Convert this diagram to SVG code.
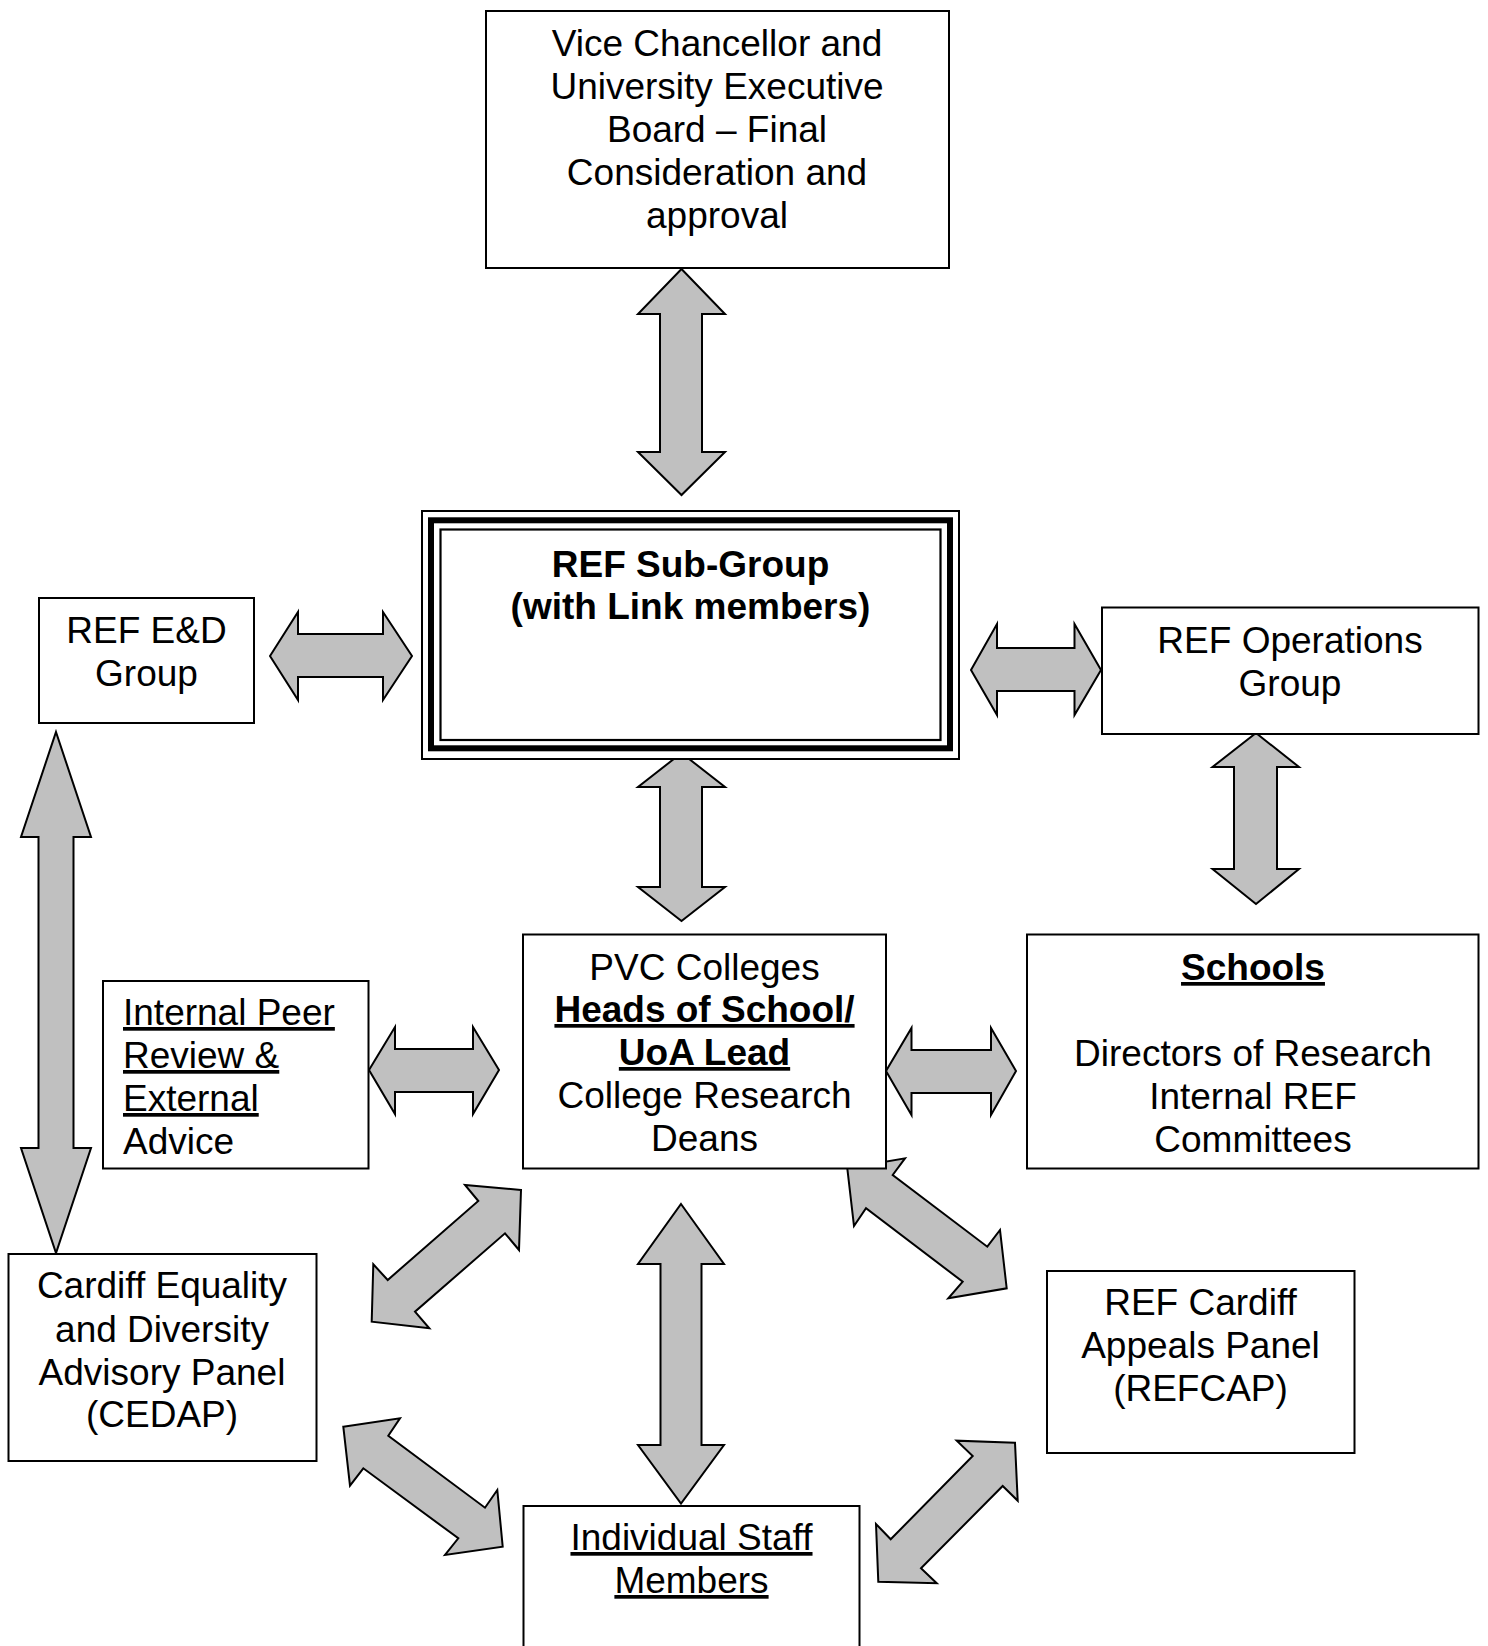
<svg xmlns="http://www.w3.org/2000/svg" width="1488" height="1646" viewBox="0 0 1488 1646">
<style>
.box{fill:#fff;stroke:#000;stroke-width:2}
.arr{fill:#c0c0c0;stroke:#000;stroke-width:2;stroke-linejoin:miter}
.t{font-family:"Liberation Sans",Arial,sans-serif;font-size:37px;fill:#000;text-anchor:middle}
.l{text-anchor:start}
.b{font-weight:bold}
.u{text-decoration:underline}
</style>
<rect width="1488" height="1646" fill="#fff"/>
<g id="connectors">
<polygon class="arr" points="681.5,269 725,314 702,314 702,452 725,452 681.5,495 638,452 660,452 660,314 638,314"/>
<polygon class="arr" points="681.5,753 725,787 702,787 702,887 725,887 681.5,921 638,887 660,887 660,787 638,787"/>
<polygon class="arr" points="681,1204 724,1264 701.5,1264 701.5,1445 724,1445 681,1503.5 638,1445 660.5,1445 660.5,1264 638,1264"/>
<polygon class="arr" points="56,732 91,837 73.5,837 73.5,1148 91,1148 56,1253 21,1148 38.5,1148 38.5,837 21,837"/>
<polygon class="arr" points="1256,733 1299,767 1277,767 1277,869 1299,869 1256,904 1212.5,869 1234,869 1234,767 1212.5,767"/>
<polygon class="arr" points="270,656 298,612 298,634 383,634 383,612 412,656 383,700 383,677 298,677 298,700"/>
<polygon class="arr" points="971,670 997,624 997,648 1074.5,648 1074.5,624 1101,670 1074.5,715 1074.5,691 997,691 997,715"/>
<polygon class="arr" points="369,1070 395,1027 395,1049 473,1049 473,1027 499,1070 473,1114 473,1092 395,1092 395,1114"/>
<polygon class="arr" points="886,1071 911.5,1028 911.5,1050 991,1050 991,1028 1016,1071 991,1115 991,1093 911.5,1093 911.5,1115"/>
<polygon class="arr" points="521,1190 465,1185 478.3,1201 387.7,1280 373.3,1264.3 371.7,1321.7 429.3,1328.3 415,1311.7 505,1233.3 519,1250"/>
<polygon class="arr" points="343.3,1426.7 400,1418.3 388.3,1435.7 485,1507.7 497.3,1490 502.7,1546.7 445,1555 458.3,1538.3 363.3,1468.3 350,1485.7"/>
<polygon class="arr" points="847.3,1168.3 905,1158.3 892.7,1175 987.3,1246.7 1000,1230 1006.7,1288.3 948.3,1298.3 962.7,1281.7 866,1208.3 854,1226"/>
<polygon class="arr" points="1015,1442.7 956.7,1440.7 972.7,1456 890.7,1539.3 876,1524 878.3,1581.7 936.7,1583.3 921,1568.3 1002.7,1486 1017.7,1500.7"/>
</g>
<g id="vc">
<rect class="box" x="486" y="11" width="463" height="257"/>
<text class="t" x="717" y="55.5">Vice Chancellor and</text>
<text class="t" x="717" y="98.5">University Executive</text>
<text class="t" x="717" y="141.5">Board – Final</text>
<text class="t" x="717" y="184.5">Consideration and</text>
<text class="t" x="717" y="227.5">approval</text>
</g>
<g id="subgroup">
<rect x="422" y="511" width="537" height="248" fill="#fff" stroke="#000" stroke-width="2"/>
<rect x="431" y="520.3" width="519" height="228" fill="none" stroke="#000" stroke-width="6"/>
<rect x="440.5" y="529.5" width="500" height="210.5" fill="none" stroke="#000" stroke-width="2.2"/>
<text class="t b" x="690.5" y="576.5">REF Sub-Group</text>
<text class="t b" x="690.5" y="619">(with Link members)</text>
</g>
<g id="ed">
<rect class="box" x="39" y="598" width="215" height="125"/>
<text class="t" x="146.5" y="643">REF E&amp;D</text>
<text class="t" x="146.5" y="686">Group</text>
</g>
<g id="ops">
<rect class="box" x="1102" y="607.5" width="376.5" height="126.5"/>
<text class="t" x="1290" y="653">REF Operations</text>
<text class="t" x="1290" y="696">Group</text>
</g>
<g id="peer">
<rect class="box" x="103" y="981" width="265.5" height="187.5"/>
<text class="t l u" x="123" y="1025">Internal Peer</text>
<text class="t l u" x="123" y="1068">Review &amp;</text>
<text class="t l u" x="123" y="1111">External</text>
<text class="t l" x="123" y="1154">Advice</text>
</g>
<g id="pvc">
<rect class="box" x="523" y="934.5" width="363" height="234"/>
<text class="t" x="704.5" y="980">PVC Colleges</text>
<text class="t b u" x="704.5" y="1022">Heads of School/</text>
<text class="t b u" x="704.5" y="1065">UoA Lead</text>
<text class="t" x="704.5" y="1108">College Research</text>
<text class="t" x="704.5" y="1150.5">Deans</text>
</g>
<g id="schools">
<rect class="box" x="1027" y="934.5" width="451.5" height="234"/>
<text class="t b u" x="1253" y="980">Schools</text>
<text class="t" x="1253" y="1066">Directors of Research</text>
<text class="t" x="1253" y="1109">Internal REF</text>
<text class="t" x="1253" y="1151.5">Committees</text>
</g>
<g id="cedap">
<rect class="box" x="8.5" y="1254" width="308" height="207"/>
<text class="t" x="162" y="1298">Cardiff Equality</text>
<text class="t" x="162" y="1341.5">and Diversity</text>
<text class="t" x="162" y="1384.5">Advisory Panel</text>
<text class="t" x="162" y="1427">(CEDAP)</text>
</g>
<g id="refcap">
<rect class="box" x="1047" y="1271" width="307.5" height="182"/>
<text class="t" x="1200.5" y="1315">REF Cardiff</text>
<text class="t" x="1200.5" y="1358">Appeals Panel</text>
<text class="t" x="1200.5" y="1400.5">(REFCAP)</text>
</g>
<g id="staff">
<rect class="box" x="523.5" y="1506" width="336" height="170"/>
<text class="t u" x="691.5" y="1550">Individual Staff</text>
<text class="t u" x="691.5" y="1593">Members</text>
</g>
</svg>
